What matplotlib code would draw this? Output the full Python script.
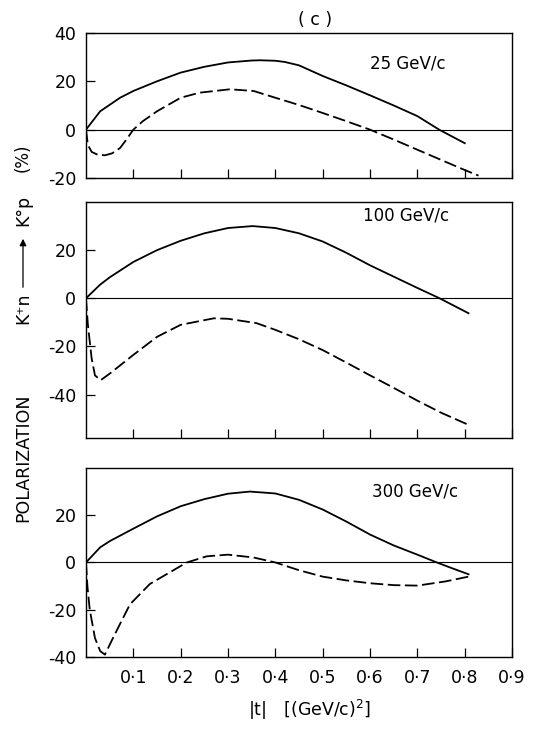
import numpy as np
import matplotlib
matplotlib.use("Agg")
import matplotlib.pyplot as plt

plt.rcParams['font.family'] = ['DejaVu Sans']
plt.rcParams['mathtext.fontset'] = 'dejavusans'

# |t| (GeV/c)^2 et polarisation (%)
t_25_plein = [0.0, 0.03, 0.072, 0.1, 0.15, 0.2, 0.25, 0.3, 0.35, 0.368, 0.4, 0.42, 0.45, 0.5,
              0.55, 0.6, 0.65, 0.7, 0.746, 0.8]
p_25_plein = [0.0, 7.6, 13.2, 16.0, 20.0, 23.6, 26.0, 27.8, 28.6, 28.7, 28.5, 28.0, 26.6, 22.2,
              18.3, 14.2, 10.0, 5.6, 0.0, -5.6]
t_25_tiret = [0.0, 0.004, 0.012, 0.025, 0.04, 0.055, 0.072, 0.085, 0.1, 0.12, 0.15, 0.2, 0.24,
              0.304, 0.354, 0.4, 0.45, 0.5, 0.55, 0.6, 0.65, 0.7, 0.75, 0.8, 0.829]
p_25_tiret = [0.0, -6.3, -9.2, -10.4, -10.6, -9.8, -7.6, -4.2, 0.0, 3.5, 7.6, 13.2, 15.3,
              16.7, 16.0, 13.2, 10.2, 6.9, 3.5, 0.0, -4.1, -8.3, -12.5, -16.7, -19.0]

t_100_plein = [0.0, 0.03, 0.05, 0.1, 0.15, 0.2, 0.25, 0.3, 0.352, 0.4, 0.45, 0.5, 0.55, 0.6,
               0.65, 0.7, 0.747, 0.808]
p_100_plein = [0.0, 5.7, 8.7, 15.1, 20.0, 23.9, 27.0, 29.2, 30.0, 29.2, 27.0, 23.6, 18.9, 13.7,
               9.0, 4.3, 0.0, -6.2]
t_100_tiret = [0.0, 0.004, 0.012, 0.019, 0.031, 0.05, 0.1, 0.15, 0.2, 0.27, 0.3, 0.36, 0.4,
               0.45, 0.5, 0.55, 0.6, 0.65, 0.7, 0.75, 0.805]
p_100_tiret = [0.0, -10.9, -25.0, -32.0, -34.0, -31.3, -23.5, -16.0, -11.0, -8.3, -8.5, -10.3,
               -13.1, -17.0, -21.5, -26.7, -32.0, -37.2, -42.5, -47.5, -52.3]

t_300_plein = [0.0, 0.03, 0.05, 0.1, 0.15, 0.2, 0.25, 0.3, 0.346, 0.4, 0.45, 0.5, 0.55, 0.6,
               0.65, 0.7, 0.741, 0.77, 0.808]
p_300_plein = [0.0, 6.4, 9.0, 14.3, 19.5, 23.8, 26.8, 29.1, 30.0, 29.2, 26.5, 22.4, 17.3, 11.8,
               7.2, 3.3, 0.0, -2.2, -5.0]
t_300_tiret = [0.0, 0.003, 0.008, 0.019, 0.03, 0.04, 0.057, 0.072, 0.093, 0.135, 0.2, 0.213,
               0.255, 0.3, 0.354, 0.4, 0.45, 0.5, 0.55, 0.6, 0.65, 0.7, 0.76, 0.808]
p_300_tiret = [0.0, -10.0, -20.0, -32.0, -37.5, -39.0, -32.0, -26.0, -17.7, -9.1, -1.5, 0.0,
               2.6, 3.3, 2.1, 0.0, -3.3, -6.0, -7.6, -8.8, -9.6, -9.8, -8.0, -6.0]

impulsions = ["25 GeV/c", "100 GeV/c", "300 GeV/c"]
x_ticks = [0.1, 0.2, 0.3, 0.4, 0.5, 0.6, 0.7, 0.8, 0.9]
x_labels = ["0·1", "0·2", "0·3", "0·4", "0·5", "0·6", "0·7", "0·8", "0·9"]

fig = plt.figure(figsize=(5.34, 7.29), dpi=100)

positions = [[0.161, 0.7558, 0.798, 0.199],
             [0.161, 0.3992, 0.798, 0.3237],
             [0.161, 0.0988, 0.798, 0.2593]]
limites = [(-20, 40), (-58, 40), (-40, 40)]
yticks = [[-20, 0, 20, 40], [-40, -20, 0, 20], [-40, -20, 0, 20]]
courbes = [(t_25_plein, p_25_plein, t_25_tiret, p_25_tiret),
           (t_100_plein, p_100_plein, t_100_tiret, p_100_tiret),
           (t_300_plein, p_300_plein, t_300_tiret, p_300_tiret)]
pos_texte = [(0.68, 27.5), (0.676, 34.4), (0.695, 30.2)]

for i in range(3):
    ax = fig.add_axes(positions[i])
    tp, pp, tt, pt = courbes[i]
    ax.axhline(0, color='k', lw=0.8)
    ax.plot(tp, pp, 'k-', lw=1.3)
    ax.plot(tt, pt, 'k', lw=1.3, dashes=(7, 2.5))
    ax.set_xlim(0, 0.9)
    ax.set_ylim(*limites[i])
    ax.set_yticks(yticks[i])
    ax.set_yticklabels([str(v) for v in yticks[i]])
    ax.set_xticks(x_ticks)
    if i == 2:
        ax.set_xticklabels(x_labels)
    else:
        ax.set_xticklabels([])
    ax.tick_params(direction='in', length=6.5, width=0.9, labelsize=12.5, pad=7,
                   top=False, right=False)
    ax.tick_params(axis='x', pad=9)
    for s in ax.spines.values():
        s.set_linewidth(1.0)
    ax.text(pos_texte[i][0], pos_texte[i][1], impulsions[i], ha='center', va='center', fontsize=12)

# titre et étiquettes
fig.text(315 / 534, 1 - 20 / 729, "( c )", ha='center', va='center', fontsize=12.5)
fig.text(310 / 534, 1 - 710 / 729, r"$\mathrm{|t|}\quad\left[(\mathrm{GeV/c})^2\right]$",
         ha='center', va='center', fontsize=12.5)

xl = 23 / 534
fig.text(xl, 1 - 158 / 729, "(%)", rotation=90, ha='center', va='center', fontsize=12)
fig.text(xl, 1 - 210 / 729, "K°p", rotation=90, ha='center', va='center', fontsize=12.5)
fig.text(xl, 1 - 308 / 729, "K⁺n", rotation=90, ha='center', va='center', fontsize=12.5)
fig.text(xl, 1 - 458 / 729, "POLARIZATION", rotation=90, ha='center', va='center', fontsize=12.5)
fig.add_artist(matplotlib.patches.FancyArrowPatch(
    (xl, 1 - 290 / 729), (xl, 1 - 236 / 729), transform=fig.transFigure,
    arrowstyle='-|>', mutation_scale=10, lw=0.9, color='k'))

fig.savefig("out.png", dpi=100)
